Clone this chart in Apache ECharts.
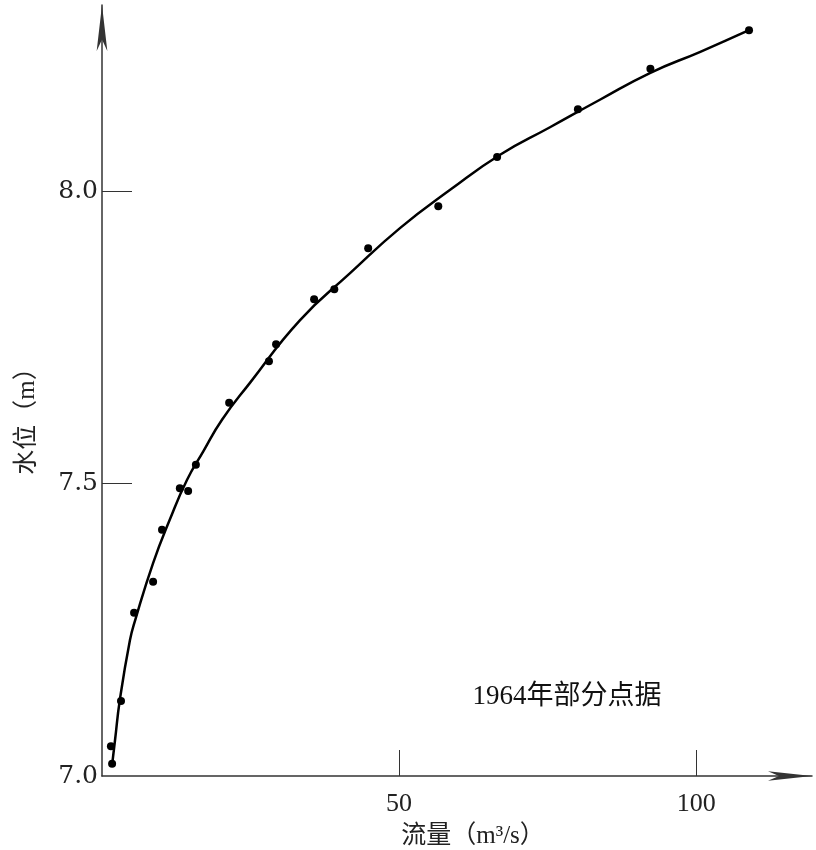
<!DOCTYPE html>
<html>
<head>
<meta charset="utf-8">
<script src="https://cdn.jsdelivr.net/npm/echarts@6/dist/echarts.min.js"></script>
<style>
html,body{margin:0;padding:0;background:#fff;}
#chart{width:816px;height:850px;}
</style>
</head>
<body>
<div id="chart"></div>
<script>
// Observed points (discharge m3/s, stage m), 1964 partial data
const pointQ = [1.5, 1.7, 3.2, 5.4, 8.6, 10.1, 13.1, 14.5, 15.8, 21.4, 28.1, 29.3, 35.7, 39.1, 44.8, 56.6, 66.5, 80.1, 92.3, 108.9];
const pointH = [7.051, 7.021, 7.128, 7.279, 7.332, 7.421, 7.492, 7.487, 7.532, 7.638, 7.709, 7.738, 7.815, 7.832, 7.902, 7.974, 8.058, 8.140, 8.209, 8.275];
// Fitted stage-discharge curve
const curveQ = [1.7, 2.2, 3.0, 4.7, 5.6, 8.6, 11.4, 14.3, 17.0, 20.2, 24.9, 33.3, 41.8, 50.2, 58.6, 67.0, 75.4, 83.8, 92.3, 100.7, 108.9];
const curveH = [7.019, 7.062, 7.130, 7.232, 7.267, 7.364, 7.438, 7.506, 7.554, 7.609, 7.672, 7.779, 7.860, 7.937, 8.002, 8.062, 8.109, 8.156, 8.202, 8.238, 8.275];
// Tick labels
const xTicks = [50, 100];
const yLabels = [7.0, 7.5, 8.0];
const yTicks = [7.5, 8.0];
const xTitle = '流量（m³/s）';
const yTitle = '水位（m）';
const note = '1964年部分点据';

const chart = echarts.init(document.getElementById('chart'));
const axisCol = '#333';
chart.setOption({
  animation: false,
  backgroundColor: '#fff',
  grid: {left: 102, right: 4, top: 5, bottom: 74},
  xAxis: {
    type: 'value', min: 0, max: 119.5, interval: 50,
    splitLine: {show: false},
    axisLine: {show: true, lineStyle: {color: axisCol, width: 1.5},
      symbol: ['none', 'arrow'], symbolSize: [7, 44], symbolOffset: [0, 0]},
    axisTick: {show: true, inside: true, length: 26, lineStyle: {color: axisCol, width: 1}, customValues: xTicks},
    axisLabel: {margin: 15, color: '#222', fontFamily: 'Liberation Serif', fontSize: 26,
      customValues: xTicks, formatter: v => String(v)}
  },
  yAxis: {
    type: 'value', min: 7.0, max: 8.318, interval: 0.5,
    splitLine: {show: false},
    axisLine: {show: true, lineStyle: {color: axisCol, width: 1.5},
      symbol: ['none', 'arrow'], symbolSize: [8, 46], symbolOffset: [0, 0]},
    axisTick: {show: true, inside: true, length: 30, lineStyle: {color: axisCol, width: 1}, customValues: yTicks},
    axisLabel: {margin: 4, color: '#222', fontFamily: 'DejaVu Serif', fontSize: 25,
      customValues: yLabels, formatter: v => v.toFixed(1)}
  },
  graphic: [
    {type: 'text', x: 473, y: 836, style: {text: xTitle, align: 'center', verticalAlign: 'middle',
      fontFamily: 'Liberation Serif, Noto Sans CJK SC', fontSize: 25, fill: '#222'}},
    {type: 'text', x: 27, y: 415, rotation: Math.PI / 2, style: {text: yTitle, align: 'center', verticalAlign: 'middle',
      fontFamily: 'Liberation Serif, Noto Sans CJK SC', fontSize: 25, fill: '#222'}},
    {type: 'text', x: 567, y: 697, style: {text: note, align: 'center', verticalAlign: 'middle',
      fontFamily: 'Liberation Serif, Noto Sans CJK SC', fontSize: 27, fill: '#111'}}
  ],
  series: [
    {type: 'line', data: curveQ.map((q, i) => [q, curveH[i]]), smooth: 0.5, showSymbol: false,
      lineStyle: {color: '#000', width: 2.5}, z: 2},
    {type: 'scatter', data: pointQ.map((q, i) => [q, pointH[i]]), symbolSize: 8,
      itemStyle: {color: '#000', opacity: 1}, z: 3}
  ]
});
</script>
</body>
</html>
